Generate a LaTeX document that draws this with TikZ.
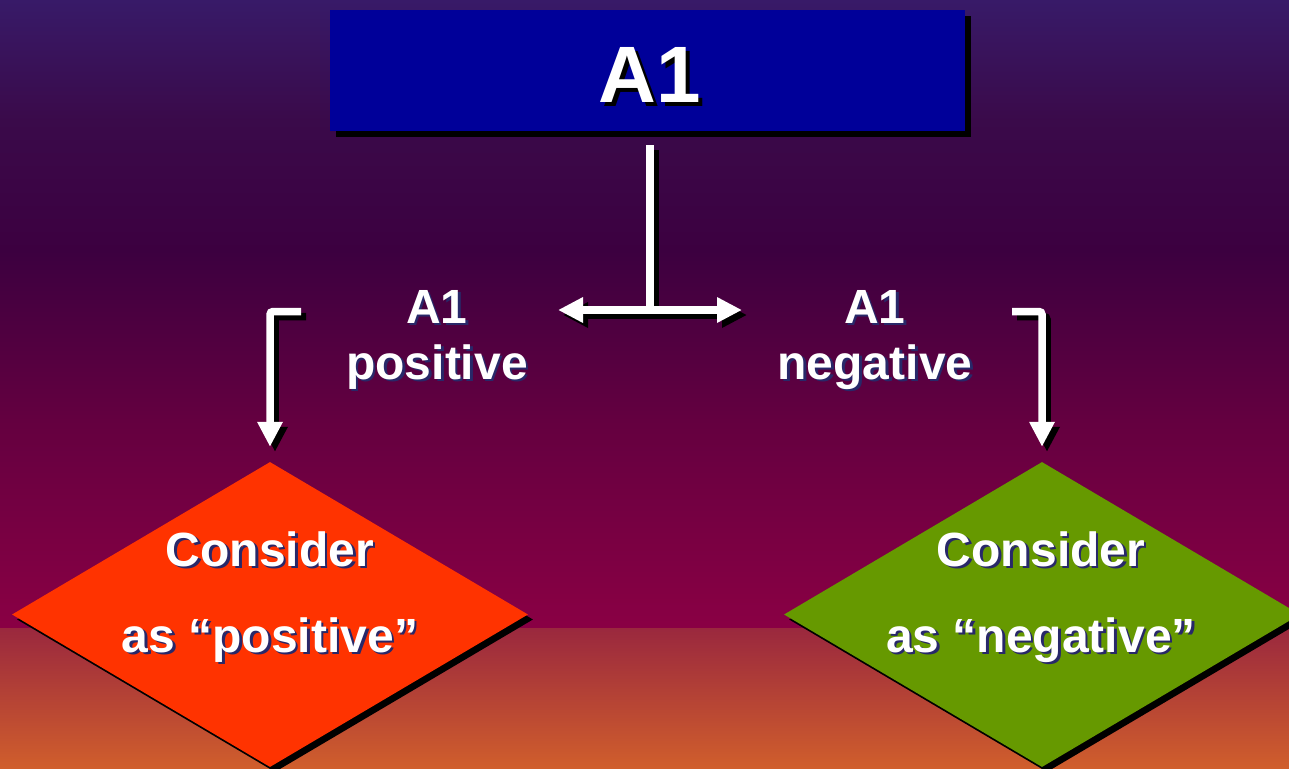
\documentclass[tikz,border=0pt]{standalone}
\usepackage{fontspec}
\setmainfont{Liberation Sans}
\usetikzlibrary{shapes.geometric,arrows.meta,calc,shadows}
\definecolor{titleblue}{RGB}{0,0,153}
\definecolor{posred}{RGB}{255,51,0}
\definecolor{neggreen}{RGB}{102,153,0}
\definecolor{txtshadow}{RGB}{40,40,105}
\definecolor{bga}{RGB}{56,26,104}
\definecolor{bgb}{RGB}{58,10,74}
\definecolor{bgc}{RGB}{60,0,64}
\definecolor{bgd}{RGB}{100,0,64}
\definecolor{bge}{RGB}{138,0,68}
\definecolor{bgf}{RGB}{154,40,62}
\definecolor{bgg}{RGB}{208,94,44}
\newcommand\shtxt[4]{% name, position, text, style
  \node[#4, text=txtshadow] (#1s) at ($(#2)+(2.5,2.5)$) {#3};
  \node[#4] (#1) at (#2) {#3};}
\newcommand\connectors[1]{%
  \draw[#1] (stemtop) -- (junc);
  \draw[#1, {Triangle[length=25pt,width=24pt]}-{Triangle[length=25pt,width=24pt]}] (hl) -- (hr);
  \draw[#1, rounded corners=3pt, -{Triangle[length=25pt,width=24pt]}, shorten >=15pt] (bls) -| (dl.north);
  \draw[#1, rounded corners=3pt, -{Triangle[length=25pt,width=24pt]}, shorten >=15pt] (brs) -| (dr.north);}
\begin{document}
\begin{tikzpicture}[x=1pt,y=-1pt,
  lbl/.style={text=white, font=\bfseries\fontsize{48}{48}\selectfont, inner sep=0pt, anchor=base},
  ttl/.style={text=white, font=\bfseries\fontsize{80}{80}\selectfont, inner sep=0pt, anchor=base},
  dia/.style={diamond, draw=none, minimum width=516pt, minimum height=305pt, inner sep=0pt,
    drop shadow={shadow xshift=5pt, shadow yshift=-5pt, fill=black, opacity=1}},
  wline/.style={draw=white, line width=7.5pt},
  bline/.style={draw=black, line width=7.5pt}]
\useasboundingbox (0,0) rectangle (1289,768);
\clip (0,0) rectangle (1289,768);
% background
\shade[top color=bga, bottom color=bgb] (0,0) rectangle (1289,121);
\shade[top color=bgb, bottom color=bgc] (0,120) rectangle (1289,251);
\shade[top color=bgc, bottom color=bgd] (0,250) rectangle (1289,421);
\shade[top color=bgd, bottom color=bge] (0,420) rectangle (1289,629);
\shade[top color=bgf, bottom color=bgg] (0,628) rectangle (1289,768);
% shapes
\node[dia, fill=posred] (dl) at (270,614.5) {};
\node[dia, fill=neggreen] (dr) at (1042,614.5) {};
\node[fill=titleblue, minimum width=635pt, minimum height=121pt, inner sep=0pt,
  drop shadow={shadow xshift=6pt, shadow yshift=-6pt, fill=black, opacity=1}] (title) at (647.5,70.5) {};
% connectors
\coordinate (stemtop) at (650,145);
\coordinate (junc) at (650,311);
\coordinate (hl) at (558,310);
\coordinate (hr) at (742,310);
\coordinate (bls) at (301,311.5);
\coordinate (brs) at (1012,311.5);
\begin{scope}[transform canvas={shift={(5,5)}}]
\connectors{bline}
\end{scope}
\connectors{wline}
% texts
\node[ttl, text=black] (ttls) at ($(650,102)+(4,4)$) {A1};
\node[ttl] (ttlt) at (650,102) {A1};
\shtxt{pa}{437,323}{A1}{lbl}
\shtxt{pb}{437,379}{positive}{lbl}
\shtxt{na}{875,323}{A1}{lbl}
\shtxt{nb}{875,379}{negative}{lbl}
\shtxt{lc}{270,566}{Consider}{lbl}
\shtxt{ld}{270,652}{as “positive”}{lbl}
\shtxt{rc}{1041,566}{Consider}{lbl}
\shtxt{rd}{1041,652}{as “negative”}{lbl}
\end{tikzpicture}
\end{document}
